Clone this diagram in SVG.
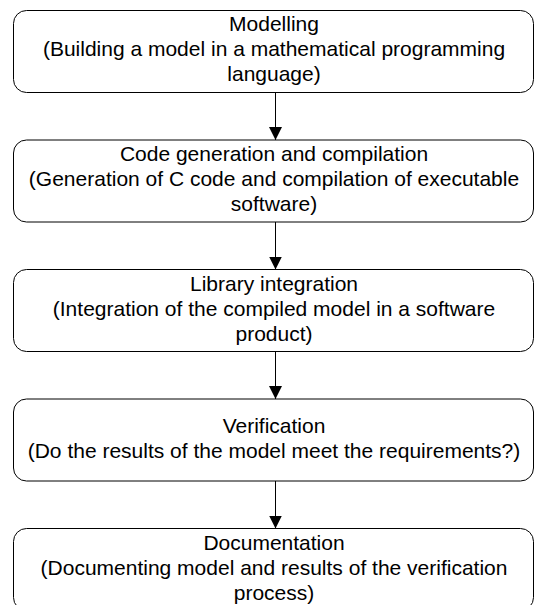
<svg xmlns="http://www.w3.org/2000/svg" width="534" height="605" viewBox="0 0 534 605">
  <defs>
    <marker id="arrow" markerWidth="13" markerHeight="14" refX="13" refY="7" orient="auto" markerUnits="userSpaceOnUse">
      <path d="M0,0.5 L13,7 L0,13.5 Z" fill="#000"/>
    </marker>
    <style>
      .box { fill: #fff; stroke: #000; stroke-width: 1; }
      .lbl { font-family: "Liberation Sans", Arial, sans-serif; font-size: 21px; fill: #000; text-anchor: middle; }
      .conn { stroke: #000; stroke-width: 1; fill: none; marker-end: url(#arrow); }
    </style>
  </defs>
  <rect width="534" height="605" fill="#fff"/>

  <g id="connectors">
    <line class="conn" x1="275.5" y1="92.5" x2="275.5" y2="140"/>
    <line class="conn" x1="275.5" y1="222" x2="275.5" y2="269.5"/>
    <line class="conn" x1="275.5" y1="351.5" x2="275.5" y2="399"/>
    <line class="conn" x1="275.5" y1="481" x2="275.5" y2="528.5"/>
  </g>

  <g id="modelling">
    <rect class="box" x="13.5" y="10.5" width="520" height="82" rx="13"/>
    <text class="lbl" x="274" y="31">Modelling</text>
    <text class="lbl" x="274" y="56">(Building a model in a mathematical programming</text>
    <text class="lbl" x="274" y="81">language)</text>
  </g>

  <g id="codegen">
    <rect class="box" x="13.5" y="140" width="520" height="82" rx="13"/>
    <text class="lbl" x="274" y="161">Code generation and compilation</text>
    <text class="lbl" x="274" y="186">(Generation of C code and compilation of executable</text>
    <text class="lbl" x="274" y="211">software)</text>
  </g>

  <g id="library">
    <rect class="box" x="13.5" y="269.5" width="520" height="82" rx="13"/>
    <text class="lbl" x="274" y="290.5">Library integration</text>
    <text class="lbl" x="274" y="315.5">(Integration of the compiled model in a software</text>
    <text class="lbl" x="274" y="340.5">product)</text>
  </g>

  <g id="verification">
    <rect class="box" x="13.5" y="399" width="520" height="82" rx="13"/>
    <text class="lbl" x="274" y="433">Verification</text>
    <text class="lbl" x="274" y="458">(Do the results of the model meet the requirements?)</text>
  </g>

  <g id="documentation">
    <rect class="box" x="13.5" y="528.5" width="520" height="82" rx="13"/>
    <text class="lbl" x="274" y="549.5">Documentation</text>
    <text class="lbl" x="274" y="574.5">(Documenting model and results of the verification</text>
    <text class="lbl" x="274" y="599.5">process)</text>
  </g>
</svg>
